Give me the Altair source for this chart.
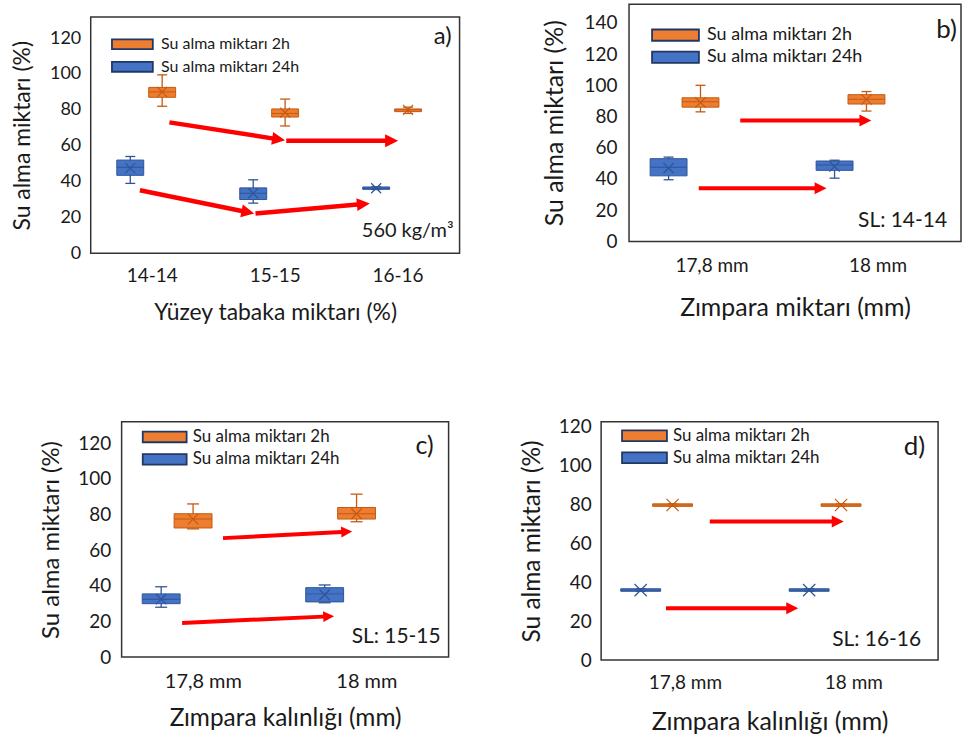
import math
import altair as alt
import pandas as pd

S2 = "Su alma miktarı 2h"
S24 = "Su alma miktarı 24h"
SERIES = [S2, S24]
FILL = ["#ED7D31", "#4472C4"]
EDGE = ["#C55A11", "#2F5597"]
FONT = "Lato"
TXT = "#1a1a1a"
YTITLE = "Su alma miktarı (%)"

cats_a = ["14-14", "15-15", "16-16"]
cats_mm = ["17,8 mm", "18 mm"]

# ---- panel a: (min, q1, median, q3, max, mean) per category
a2_min = [82, 71, 78]
a2_q1 = [87, 76, 79]
a2_med = [90, 78, 80]
a2_q3 = [92.5, 80.5, 80.5]
a2_max = [99.5, 86, 81.5]
a2_mean = [90, 78.5, 80]
a24_min = [39, 28, 35.6]
a24_q1 = [43.5, 30, 35.7]
a24_med = [48, 33.5, 36.3]
a24_q3 = [52, 36.5, 37]
a24_max = [54, 41, 37.1]
a24_mean = [47.5, 33.5, 36.3]

# ---- panel b
b2_min = [83, 83.5]
b2_q1 = [86, 88]
b2_med = [89.5, 91]
b2_q3 = [92, 94]
b2_max = [100, 96]
b2_mean = [89, 91]
b24_min = [39.5, 40.5]
b24_q1 = [42, 45.5]
b24_med = [47.5, 49]
b24_q3 = [53, 51.5]
b24_max = [54, 52]
b24_mean = [47, 48]

# ---- panel c
c2_min = [72, 76]
c2_q1 = [72.5, 77.5]
c2_med = [77.5, 80.5]
c2_q3 = [80.5, 84]
c2_max = [86, 91.5]
c2_mean = [77.5, 80.5]
c24_min = [28, 30.5]
c24_q1 = [30, 31]
c24_med = [32.5, 35.5]
c24_q3 = [35.5, 39]
c24_max = [39.5, 40.5]
c24_mean = [32.5, 35]

# ---- panel d
d2_min = [79.1, 79.1]
d2_q1 = [79.1, 79.1]
d2_med = [79.8, 79.8]
d2_q3 = [80.4, 80.4]
d2_max = [80.4, 80.4]
d2_mean = [79.8, 79.8]
d24_min = [35.4, 35.4]
d24_q1 = [35.4, 35.4]
d24_med = [36, 36]
d24_q3 = [36.7, 36.7]
d24_max = [36.7, 36.7]
d24_mean = [36, 36]

# ---- red arrows (x in category-index units, y in %); start -> tip
a_arr_x1 = [0.14, 1.09, -0.10, 0.84]
a_arr_y1 = [73.0, 62.8, 35.2, 22.2]
a_arr_x2 = [1.08, 2.00, 0.83, 1.77]
a_arr_y2 = [63.0, 62.8, 22.2, 27.8]

b_arr_x1 = [0.17, -0.08]
b_arr_y1 = [77.4, 34.0]
b_arr_x2 = [0.96, 0.69]
b_arr_y2 = [77.4, 34.0]

c_arr_x1 = [0.12, -0.13]
c_arr_y1 = [66.8, 19.2]
c_arr_x2 = [0.91, 0.80]
c_arr_y2 = [70.5, 23.0]

d_arr_x1 = [0.145, -0.115]
d_arr_y1 = [71.3, 26.7]
d_arr_x2 = [0.94, 0.67]
d_arr_y2 = [71.3, 26.7]

SHAPE_X = "M-1,-1L1,1M-1,1L1,-1"
SHAPE_HEAD = "M1,0L-1,-1L-1,1Z"
SHAPE_SWATCH = "M-2.5,-0.6H2.5V0.6H-2.5Z"
EDGE_OF = dict(zip(SERIES, EDGE))


def box_table(cats, st2, st24):
    rows = []
    for name, st in ((S2, st2), (S24, st24)):
        lo, q1, med, q3, hi, mean = st
        for i, c in enumerate(cats):
            rows.append(dict(cat=c, series=name, edge=EDGE_OF[name], lo=lo[i], q1=q1[i],
                             med=med[i], q3=q3[i], hi=hi[i], mean=mean[i]))
    return pd.DataFrame(rows)


def arrow_table(x1, y1, x2, y2, n, W, H, ymax, head_r):
    pxx = W / n
    pxy = H / ymax
    rows = []
    for a, b, c, d in zip(x1, y1, x2, y2):
        dxp = (c - a) * pxx
        dyp = -(d - b) * pxy
        L = math.hypot(dxp, dyp)
        ux, uy = dxp / L, dyp / L
        xh = c - head_r * ux / pxx
        yh = d + head_r * uy / pxy
        ang = math.degrees(math.atan2(dyp, dxp)) % 360
        rows.append(dict(x1=a, y1=b, xe=xh, ye=yh, xh=xh, yh=yh, ang=ang))
    return pd.DataFrame(rows)


def make_panel(cats, st2, st24, arr, c):
    W, H, ymax = c["w"], c["h"], c["ymax"]
    n = len(cats)
    df = box_table(cats, st2, st24)
    yscale = alt.Scale(domain=[0, ymax], nice=False, zero=False)
    yaxis = alt.Axis(values=c["yticks"], title=YTITLE, grid=False, ticks=False, tickSize=0,
                     domain=False, labelPadding=c["ylp"], titlePadding=c["ytp"],
                     labelFont=FONT, labelFontSize=c["ytick_fs"], labelColor=TXT,
                     titleFont=FONT, titleFontSize=c["ytitle_fs"], titleFontWeight="normal",
                     titleColor=TXT)
    xaxis = alt.Axis(title=c["xtitle"], labelAngle=0, ticks=False, tickSize=0, domain=False,
                     grid=False, labelPadding=c["xlp"], titlePadding=c["xtp"],
                     labelFont=FONT, labelFontSize=c["xtick_fs"], labelColor=TXT,
                     titleFont=FONT, titleFontSize=c["xtitle_fs"], titleFontWeight="normal",
                     titleColor=TXT)

    def Y(f):
        return alt.Y(f, type="quantitative", scale=yscale, axis=yaxis)

    fill_sc = alt.Scale(domain=SERIES, range=FILL)
    base = alt.Chart(df).encode(
        x=alt.X("cat:N", sort=cats, scale=alt.Scale(paddingInner=0, paddingOuter=0), axis=xaxis),
        xOffset=alt.XOffset("series:N", sort=[S24, S2],
                            scale=alt.Scale(paddingInner=0, paddingOuter=c["po"], align=c["al"])),
    )
    edge = alt.Stroke("edge:N", scale=None)
    edgef = alt.Fill("edge:N", scale=None)
    legend = alt.Legend(orient="none", legendX=c["lgx"], legendY=c["lgy"], title=None,
                        symbolType=SHAPE_SWATCH, symbolSize=(2 * c["lgr"]) ** 2,
                        symbolStrokeColor="#203864", symbolStrokeWidth=1.8, symbolOpacity=1,
                        labelFont=FONT, labelFontSize=c["lg_fs"], labelColor=TXT,
                        labelOffset=c["lgo"], rowPadding=c["lgrp"], padding=0, labelLimit=0)

    whisker = base.mark_rule(strokeWidth=1.3, opacity=1).encode(y=Y("lo"), y2="hi:Q", stroke=edge)
    cap_lo = base.mark_tick(size=c["cap"], thickness=1.3, opacity=1).encode(y=Y("lo"), fill=edgef)
    cap_hi = base.mark_tick(size=c["cap"], thickness=1.3, opacity=1).encode(y=Y("hi"), fill=edgef)
    box = base.mark_bar(size=c["bw"], strokeWidth=1, opacity=1).encode(
        y=Y("q1"), y2="q3:Q",
        color=alt.Color("series:N", scale=fill_sc, legend=legend),
        stroke=edge)
    med = base.mark_tick(size=c["bw"], thickness=1, opacity=1).encode(y=Y("med"), fill=edgef)
    mean = base.mark_point(shape=SHAPE_X, size=c["xs"], filled=False, strokeWidth=1.2,
                           opacity=1).encode(y=Y("mean"), stroke=edge)
    boxes = alt.layer(whisker, cap_lo, cap_hi, box, med, mean)

    ad = arrow_table(*arr, n, W, H, ymax, c["hr"])
    xq = alt.Scale(domain=[-0.5, n - 0.5], nice=False, zero=False)
    shaft = alt.Chart(ad).mark_rule(color="#FF0000", strokeWidth=c["aw"], strokeCap="butt").encode(
        x=alt.X("x1:Q", scale=xq, axis=None), x2="xe:Q", y=Y("y1"), y2="ye:Q")
    head = alt.Chart(ad).mark_point(shape=SHAPE_HEAD, filled=True, color="#FF0000",
                                    size=(2 * c["hr"]) ** 2, opacity=1, strokeWidth=0).encode(
        x=alt.X("xh:Q", scale=xq, axis=None), y=Y("yh"), angle=alt.Angle("ang:Q", scale=None))
    arrows = alt.layer(shaft, head)

    letter = alt.Chart(pd.DataFrame({"t": [c["letter"]]})).mark_text(
        font=FONT, fontSize=c["letter_fs"], align="right", baseline="middle", color=TXT).encode(
        text="t:N", x=alt.value(W - c["letter_dx"]), y=alt.value(c["letter_y"]))
    note = alt.Chart(pd.DataFrame({"t": [c["note"]]})).mark_text(
        font=FONT, fontSize=c["note_fs"], align="right", baseline="middle", color=TXT).encode(
        text="t:N", x=alt.value(W - c["note_dx"]), y=alt.value(c["note_y"]))

    return alt.layer(boxes, arrows, letter, note).resolve_scale(x="independent").properties(
        width=W, height=H)


def spacer(w, h):
    return alt.Chart(pd.DataFrame({"v": [0]})).mark_point(size=0, opacity=0).properties(
        width=w, height=h, view=alt.ViewBackground(stroke="transparent"))


def indep(ch):
    return ch.resolve_scale(color="independent").resolve_legend(color="independent")


cfg_a = dict(w=370, h=237, ymax=131.7, yticks=[0, 20, 40, 60, 80, 100, 120],
             ylp=10, ytp=15, ytick_fs=18, ytitle_fs=23,
             xtitle="Yüzey tabaka miktarı (%)", xlp=13, xtp=16, xtick_fs=19, xtitle_fs=23,
             po=0.927, al=0.399, bw=27, cap=10, xs=100, aw=4.5, hr=6.5,
             lgx=32.3, lgy=17.8, lgr=8.2, lgo=19.3, lgrp=3.6, lg_fs=16,
             letter="a)", letter_fs=24, letter_dx=8, letter_y=20,
             note="560 kg/m³", note_fs=20, note_dx=6, note_y=215)
cfg_b = dict(w=333, h=238, ymax=152, yticks=[0, 20, 40, 60, 80, 100, 120, 140],
             ylp=12, ytp=17, ytick_fs=19, ytitle_fs=25,
             xtitle="Zımpara miktarı (mm)", xlp=15, xtp=20, xtick_fs=19, xtitle_fs=25,
             po=0.903, al=0.45, bw=37, cap=10, xs=110, aw=4, hr=6,
             lgx=36.1, lgy=20.6, lgr=9.4, lgo=21.1, lgrp=2.2, lg_fs=18,
             letter="b)", letter_fs=26, letter_dx=4, letter_y=26,
             note="SL: 14-14", note_fs=21, note_dx=14, note_y=218)
cfg_c = dict(w=328, h=236, ymax=132.1, yticks=[0, 20, 40, 60, 80, 100, 120],
             ylp=11, ytp=14.5, ytick_fs=19, ytitle_fs=24,
             xtitle="Zımpara kalınlığı (mm)", xlp=14, xtp=16, xtick_fs=20, xtitle_fs=24.5,
             po=1.0, al=0.479, bw=38, cap=12, xs=110, aw=4, hr=5.5,
             lgx=33.2, lgy=5.2, lgr=8.8, lgo=18.2, lgrp=3.4, lg_fs=17,
             letter="c)", letter_fs=25, letter_dx=15, letter_y=24,
             note="SL: 15-15", note_fs=21, note_dx=8, note_y=216)
cfg_d = dict(w=338, h=239, ymax=122.6, yticks=[0, 20, 40, 60, 80, 100, 120],
             ylp=10, ytp=14, ytick_fs=19, ytitle_fs=24.5,
             xtitle="Zımpara kalınlığı (mm)", xlp=14, xtp=17, xtick_fs=19, xtitle_fs=25,
             po=1.0, al=0.471, bw=40, cap=10, xs=150, aw=4, hr=6,
             lgx=33.5, lgy=4, lgr=9, lgo=18.5, lgrp=3, lg_fs=17,
             letter="d)", letter_fs=26, letter_dx=13, letter_y=25,
             note="SL: 16-16", note_fs=21, note_dx=17, note_y=219)

pa = make_panel(cats_a,
                (a2_min, a2_q1, a2_med, a2_q3, a2_max, a2_mean),
                (a24_min, a24_q1, a24_med, a24_q3, a24_max, a24_mean),
                (a_arr_x1, a_arr_y1, a_arr_x2, a_arr_y2), cfg_a)
pb = make_panel(cats_mm,
                (b2_min, b2_q1, b2_med, b2_q3, b2_max, b2_mean),
                (b24_min, b24_q1, b24_med, b24_q3, b24_max, b24_mean),
                (b_arr_x1, b_arr_y1, b_arr_x2, b_arr_y2), cfg_b)
pc = make_panel(cats_mm,
                (c2_min, c2_q1, c2_med, c2_q3, c2_max, c2_mean),
                (c24_min, c24_q1, c24_med, c24_q3, c24_max, c24_mean),
                (c_arr_x1, c_arr_y1, c_arr_x2, c_arr_y2), cfg_c)
pdd = make_panel(cats_mm,
                 (d2_min, d2_q1, d2_med, d2_q3, d2_max, d2_mean),
                 (d24_min, d24_q1, d24_med, d24_q3, d24_max, d24_mean),
                 (d_arr_x1, d_arr_y1, d_arr_x2, d_arr_y2), cfg_d)

# layout: cells of a concat are aligned on their plot origins, so each row starts
# with an invisible spacer that sets the left position of its first panel
colA = indep(alt.vconcat(spacer(1, 1), pa, spacing=10))
leftA = indep(alt.hconcat(spacer(8, 1), colA, spacing=0))
row1 = indep(alt.hconcat(leftA, pb, spacing=81))
leftC = indep(alt.hconcat(spacer(36, 1), pc, spacing=0))
row2 = indep(alt.hconcat(leftC, pdd, spacing=69))
chart = indep(alt.vconcat(row1, row2, spacing=92)).properties(
    padding={"left": 0, "top": 2, "right": 0, "bottom": 0},
    background="white",
).configure_view(stroke="#333333", strokeWidth=1.5)

chart.save("out.html", embed_options={"renderer": "svg", "actions": False})
